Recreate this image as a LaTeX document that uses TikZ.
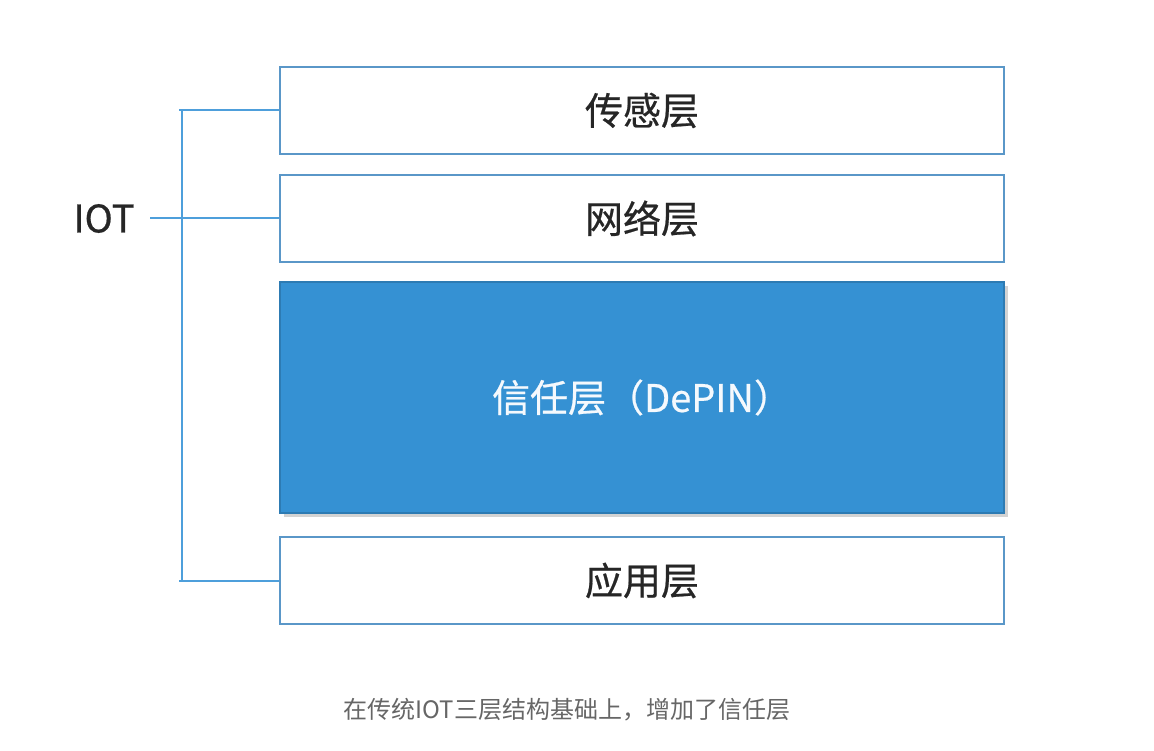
\documentclass[tikz,border=0pt]{standalone}
\usepackage{fontspec}
\newfontfamily\cjk{Noto Sans CJK SC}
\newfontfamily\cjkmid{Noto Sans CJK SC}[FakeBold=0.6]
\usetikzlibrary{positioning,shadows}
\definecolor{edgeblue}{HTML}{5A97C8}
\definecolor{linkblue}{HTML}{4E9FDB}
\definecolor{trustblue}{HTML}{3591D3}
\definecolor{capgray}{HTML}{666666}
\tikzset{
  layer/.style={draw=edgeblue, line width=1.4pt, fill=white, minimum width=724pt,
    minimum height=87pt, inner sep=0pt, font=\cjkmid\fontsize{38}{44}\selectfont, text=black!85},
  trustbox/.style={layer, draw=trustblue!85!black, fill=trustblue, minimum height=231pt,
    text=white!95!trustblue,
    drop shadow={shadow xshift=4pt, shadow yshift=-4pt, opacity=0.35}},
  bracket/.style={draw=linkblue, line width=2pt}
}
\begin{document}
\begin{tikzpicture}[x=1pt,y=-1pt]
\useasboundingbox (0,0) rectangle (1154,751);

% Define nodes
\node[layer] (sense) at (642,110.5) {传感层};
\node[layer, below=19.6pt of sense] (net) {网络层};
\node[trustbox, below=18.6pt of net] (trust) {信任层（DePIN）};
\node[layer, below=22.6pt of trust] (app) {应用层};
\node[font=\cjkmid\fontsize{38}{44}\selectfont, text=black!85] (iot) at (104,218.5) {IOT};

% Bracket
\coordinate[left=97pt of sense.west] (btop);
\coordinate[left=97pt of app.west] (bbot);
\draw[bracket] ([xshift=-3pt]btop) -- (sense.west);
\draw[bracket] ([xshift=-3pt]bbot) -- (app.west);
\draw[bracket] (btop) -- (bbot);
\draw[bracket] ([xshift=12pt]iot.east |- net.west) -- (net.west);

% Caption
\node[font=\cjk\fontsize{24}{29}\selectfont, text=capgray] (cap) at (567,710) {在传统IOT三层结构基础上，增加了信任层};

\end{tikzpicture}
\end{document}
